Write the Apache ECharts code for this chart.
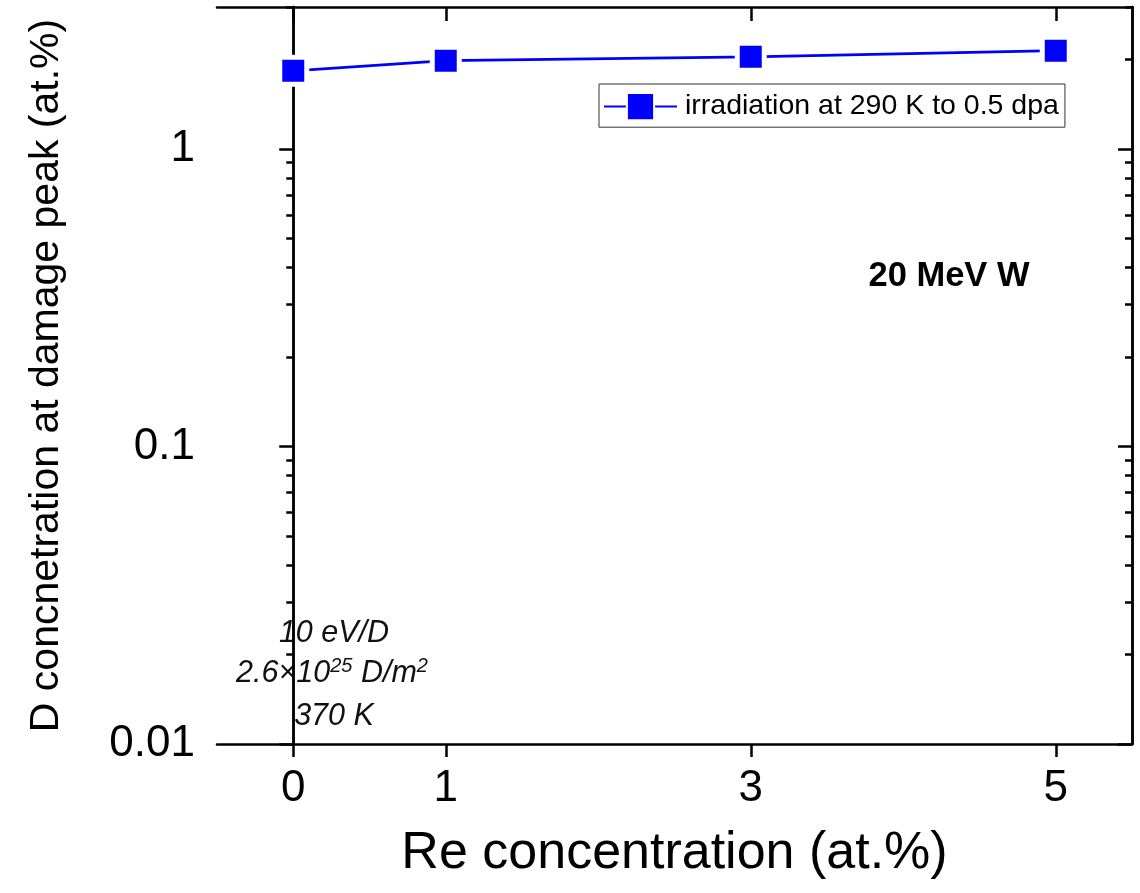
<!DOCTYPE html>
<html>
<head>
<meta charset="utf-8">
<script src="https://cdn.jsdelivr.net/npm/echarts@6/dist/echarts.min.js"></script>
<style>html,body{margin:0;padding:0;background:#fff;}#c{width:1140px;height:893px;}</style>
</head>
<body>
<div id="c"></div>
<script>
const reConc = [0, 1, 3, 5];
const dConc = [1.83, 1.98, 2.04, 2.14];
const xTicks = [0, 1, 3, 5];
const yMajor = [0.01, 0.1, 1];
const yMinor = [0.02,0.03,0.04,0.05,0.06,0.07,0.08,0.09,0.2,0.3,0.4,0.5,0.6,0.7,0.8,0.9,2,3];
const seriesName = 'irradiation at 290 K to 0.5 dpa';

const FONT = '"Liberation Sans", Arial, sans-serif';
const AX = '#000';
const LW = 2.5;

const chart = echarts.init(document.getElementById('c'), null, {renderer: 'canvas'});

function yAx(pos, ticks, len, inside, labels) {
  return {
    type: 'log', logBase: 10, min: 0.01, max: 3, position: pos,
    axisLine: {show: true, lineStyle: {color: AX, width: LW}},
    axisTick: {show: true, inside: inside, length: len, customValues: ticks, lineStyle: {color: AX, width: LW}},
    axisLabel: labels ? {show: true, customValues: yMajor, fontSize: 44, color: '#000', fontFamily: FONT, margin: 22,
      formatter: v => String(v)} : {show: false},
    splitLine: {show: false}, minorTick: {show: false}, minorSplitLine: {show: false}
  };
}

const option = {
  animation: false,
  backgroundColor: '#fff',
  grid: {left: 217, top: 7, right: 8, bottom: 149, outerBoundsMode: 'none', containLabel: false},
  legend: {
    show: true, data: [seriesName], left: 599, top: 84,
    padding: [8, 6, 6, 4], itemWidth: 73, itemHeight: 34, itemGap: 0,
    borderColor: '#333', borderWidth: 1, backgroundColor: '#fff',
    textStyle: {fontSize: 28.5, color: '#000', fontFamily: FONT, padding: [0, 0, 0, 3]}
  },
  xAxis: [
    {
      type: 'value', min: -0.5, max: 5.5, position: 'bottom',
      name: 'Re concentration (at.%)', nameLocation: 'middle', nameGap: 84,
      nameTextStyle: {fontSize: 52, color: '#000', fontFamily: FONT},
      axisLine: {show: true, onZero: false, lineStyle: {color: AX, width: LW}},
      axisTick: {show: true, length: 13, customValues: xTicks, lineStyle: {color: AX, width: LW}},
      axisLabel: {show: true, customValues: xTicks, fontSize: 44, color: '#000', fontFamily: FONT, margin: 23},
      splitLine: {show: false}
    },
    {
      type: 'value', min: -0.5, max: 5.5, position: 'top',
      axisLine: {show: true, onZero: false, lineStyle: {color: AX, width: LW}},
      axisTick: {show: true, inside: true, length: 14, customValues: xTicks, lineStyle: {color: AX, width: LW}},
      axisLabel: {show: false},
      splitLine: {show: false}
    }
  ],
  yAxis: [
    Object.assign(yAx('left', yMajor, 14, false, true), {
      name: 'D concnetration at damage peak (at.%)', nameLocation: 'middle', nameGap: 150,
      nameTextStyle: {fontSize: 41, color: '#000', fontFamily: FONT}
    }),
    yAx('left', yMinor, 7, false, false),
    yAx('right', yMajor, 14, true, false),
    yAx('right', yMinor, 7, true, false)
  ],
  series: [{
    name: seriesName, type: 'line', xAxisIndex: 0, yAxisIndex: 0,
    data: reConc.map((x, i) => [x, dConc[i]]),
    symbol: 'rect', symbolSize: 27,
    lineStyle: {color: '#0000ff', width: 2.8},
    itemStyle: {color: '#0000ff', borderColor: '#fff', borderWidth: 5},
    z: 5
  }],
  graphic: [
    {type: 'text', x: 949, y: 276, style: {text: '20 MeV W', font: 'bold 34.5px ' + FONT, fill: '#000', textAlign: 'center', textVerticalAlign: 'middle'}},
    {type: 'text', x: 334, y: 634, style: {text: '10 eV/D', font: 'italic 30.5px ' + FONT, fill: '#111', textAlign: 'center', textVerticalAlign: 'middle'}},
    {type: 'text', x: 332, y: 674, style: {
      text: '2.6×10{sup|25} D/m{sup|2}', fontStyle: 'italic', fontSize: 30.5, fontFamily: FONT, fill: '#111', lineHeight: 36,
      align: 'center', verticalAlign: 'middle',
      rich: {sup: {fontStyle: 'italic', fontSize: 20, fontFamily: FONT, lineHeight: 20, verticalAlign: 'top', fill: '#111'}}
    }},
    {type: 'text', x: 334, y: 717, style: {text: '370 K', font: 'italic 30.5px ' + FONT, fill: '#111', textAlign: 'center', textVerticalAlign: 'middle'}}
  ]
};
chart.setOption(option);
</script>
</body>
</html>
